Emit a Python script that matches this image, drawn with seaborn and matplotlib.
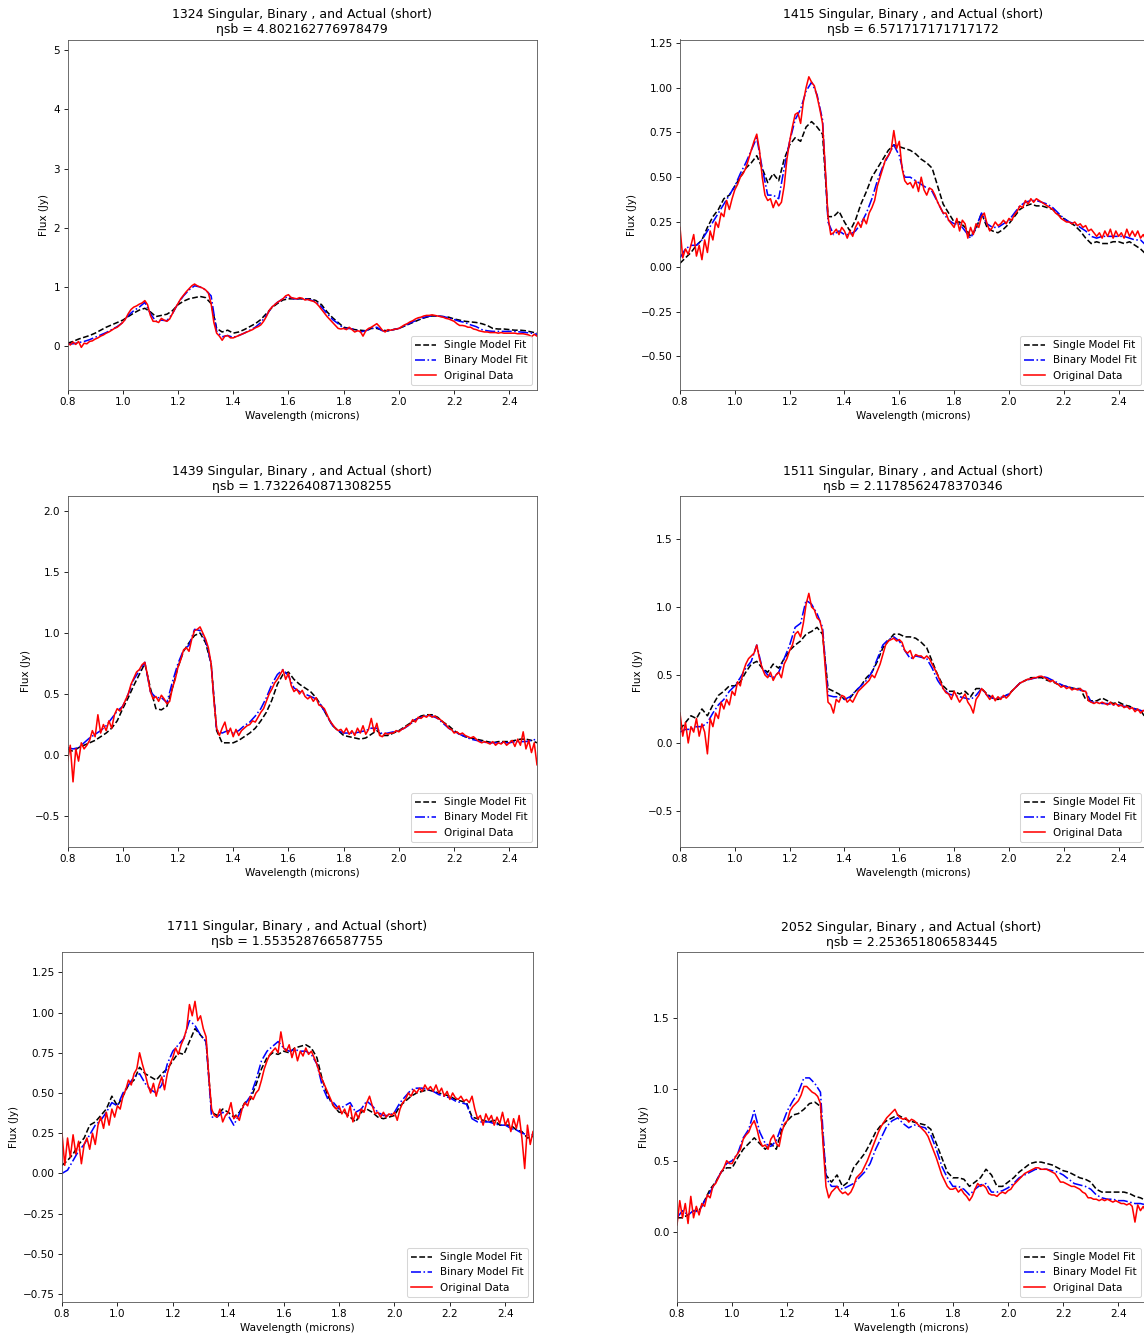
import numpy as np
import matplotlib
matplotlib.use("Agg")
import matplotlib.pyplot as plt
import seaborn as sns

# ---------------- data ----------------
wave_fit = np.round(np.linspace(0.80, 2.50, 86), 2)    # model grid (0.02 step)
wave_data = np.round(np.linspace(0.80, 2.50, 171), 2)  # observed grid (0.01 step)

star_ids = ["1324", "1415", "1439", "1511", "1711", "2052"]
eta_sb = ["4.802162776978479", "6.571717171717172", "1.7322640871308255",
          "2.1178562478370346", "1.553528766587755", "2.253651806583445"]

# ---- 1324 ----
single_1324 = [0.05, 0.08, 0.12, 0.15, 0.18, 0.22, 0.27, 0.32, 0.36, 0.40,
               0.44, 0.50, 0.56, 0.61, 0.64, 0.58, 0.50, 0.52, 0.54, 0.60,
               0.70, 0.76, 0.80, 0.82, 0.84, 0.82, 0.72, 0.30, 0.24, 0.27,
               0.22, 0.24, 0.28, 0.33, 0.38, 0.45, 0.55, 0.65, 0.72, 0.78,
               0.80, 0.80, 0.80, 0.80, 0.80, 0.77, 0.70, 0.58, 0.48, 0.40,
               0.32, 0.30, 0.28, 0.27, 0.26, 0.30, 0.30, 0.27, 0.26, 0.28,
               0.30, 0.34, 0.38, 0.42, 0.46, 0.49, 0.51, 0.51, 0.50, 0.49,
               0.46, 0.44, 0.42, 0.41, 0.40, 0.38, 0.35, 0.30, 0.29, 0.29,
               0.28, 0.27, 0.27, 0.26, 0.24, 0.22]
binary_1324 = [0.04, 0.04, 0.06, 0.08, 0.11, 0.15, 0.19, 0.23, 0.28, 0.33,
               0.40, 0.52, 0.60, 0.66, 0.74, 0.55, 0.42, 0.44, 0.43, 0.55,
               0.72, 0.85, 0.95, 1.02, 1.00, 0.95, 0.85, 0.25, 0.16, 0.18,
               0.15, 0.18, 0.22, 0.27, 0.32, 0.40, 0.52, 0.66, 0.74, 0.80,
               0.84, 0.80, 0.80, 0.80, 0.78, 0.75, 0.66, 0.55, 0.45, 0.38,
               0.30, 0.30, 0.28, 0.24, 0.26, 0.30, 0.32, 0.26, 0.26, 0.28,
               0.30, 0.34, 0.39, 0.43, 0.47, 0.50, 0.51, 0.51, 0.50, 0.48,
               0.45, 0.42, 0.40, 0.36, 0.33, 0.28, 0.26, 0.25, 0.25, 0.25,
               0.25, 0.25, 0.24, 0.23, 0.22, 0.20]
data_1324 = [0.06, 0.02, 0.07, 0.03, 0.08, -0.02, 0.05, 0.04, 0.08, 0.09,
             0.12, 0.14, 0.17, 0.19, 0.22, 0.24, 0.27, 0.30, 0.32, 0.36,
             0.40, 0.46, 0.55, 0.62, 0.66, 0.68, 0.71, 0.73, 0.77, 0.70,
             0.52, 0.42, 0.42, 0.40, 0.47, 0.44, 0.42, 0.46, 0.55, 0.64,
             0.72, 0.80, 0.86, 0.92, 0.97, 1.02, 1.05, 1.02, 1.00, 0.98,
             0.95, 0.90, 0.72, 0.40, 0.22, 0.17, 0.10, 0.17, 0.18, 0.14,
             0.14, 0.16, 0.18, 0.20, 0.22, 0.24, 0.26, 0.28, 0.31, 0.33,
             0.36, 0.42, 0.50, 0.60, 0.66, 0.70, 0.74, 0.77, 0.80, 0.85,
             0.87, 0.82, 0.81, 0.80, 0.82, 0.81, 0.78, 0.79, 0.77, 0.76,
             0.73, 0.68, 0.62, 0.56, 0.50, 0.45, 0.40, 0.35, 0.30, 0.29,
             0.30, 0.28, 0.32, 0.28, 0.24, 0.26, 0.25, 0.17, 0.26, 0.30,
             0.32, 0.35, 0.38, 0.33, 0.27, 0.24, 0.28, 0.27, 0.28, 0.29,
             0.30, 0.33, 0.36, 0.38, 0.41, 0.43, 0.46, 0.48, 0.49, 0.51,
             0.52, 0.52, 0.53, 0.52, 0.51, 0.50, 0.49, 0.47, 0.46, 0.44,
             0.42, 0.38, 0.35, 0.35, 0.34, 0.32, 0.32, 0.29, 0.28, 0.26,
             0.25, 0.24, 0.24, 0.23, 0.23, 0.23, 0.22, 0.23, 0.22, 0.22,
             0.22, 0.22, 0.22, 0.21, 0.21, 0.21, 0.20, 0.19, 0.16, 0.20,
             0.17]

# ---- 1415 ----
single_1415 = [0.02, 0.05, 0.08, 0.12, 0.15, 0.22, 0.28, 0.32, 0.38, 0.40,
               0.45, 0.50, 0.55, 0.58, 0.62, 0.55, 0.47, 0.52, 0.48, 0.60,
               0.68, 0.72, 0.70, 0.78, 0.81, 0.78, 0.74, 0.28, 0.28, 0.31,
               0.25, 0.20, 0.26, 0.35, 0.42, 0.50, 0.55, 0.60, 0.65, 0.68,
               0.67, 0.66, 0.65, 0.63, 0.60, 0.58, 0.55, 0.45, 0.35, 0.30,
               0.25, 0.25, 0.22, 0.17, 0.21, 0.30, 0.22, 0.20, 0.19, 0.21,
               0.24, 0.28, 0.32, 0.34, 0.35, 0.34, 0.34, 0.33, 0.32, 0.29,
               0.27, 0.25, 0.23, 0.20, 0.16, 0.13, 0.14, 0.13, 0.13, 0.14,
               0.14, 0.13, 0.14, 0.12, 0.10, 0.07]
binary_1415 = [0.05, 0.10, 0.12, 0.12, 0.15, 0.20, 0.25, 0.30, 0.35, 0.40,
               0.45, 0.52, 0.58, 0.65, 0.72, 0.55, 0.40, 0.40, 0.38, 0.55,
               0.70, 0.82, 0.88, 0.98, 1.03, 0.96, 0.82, 0.25, 0.18, 0.20,
               0.18, 0.18, 0.20, 0.24, 0.30, 0.38, 0.48, 0.56, 0.62, 0.68,
               0.62, 0.50, 0.50, 0.48, 0.46, 0.44, 0.42, 0.36, 0.30, 0.26,
               0.24, 0.24, 0.20, 0.16, 0.22, 0.30, 0.24, 0.22, 0.22, 0.24,
               0.26, 0.30, 0.34, 0.36, 0.37, 0.37, 0.36, 0.35, 0.33, 0.30,
               0.27, 0.25, 0.24, 0.22, 0.20, 0.17, 0.16, 0.17, 0.17, 0.17,
               0.17, 0.17, 0.16, 0.15, 0.15, 0.12]
data_1415 = [0.22, 0.05, 0.10, 0.07, 0.12, 0.18, 0.06, 0.12, 0.04, 0.15,
             0.08, 0.20, 0.15, 0.25, 0.22, 0.30, 0.28, 0.37, 0.32, 0.38,
             0.43, 0.46, 0.50, 0.52, 0.55, 0.60, 0.65, 0.70, 0.74, 0.65,
             0.50, 0.40, 0.37, 0.38, 0.33, 0.37, 0.34, 0.36, 0.45, 0.60,
             0.70, 0.78, 0.85, 0.86, 0.80, 0.92, 1.00, 1.06, 1.03, 1.01,
             0.95, 0.88, 0.80, 0.55, 0.28, 0.18, 0.19, 0.21, 0.18, 0.22,
             0.20, 0.16, 0.20, 0.17, 0.22, 0.25, 0.22, 0.27, 0.24, 0.30,
             0.33, 0.37, 0.45, 0.50, 0.55, 0.60, 0.62, 0.65, 0.76, 0.66,
             0.70, 0.55, 0.48, 0.46, 0.47, 0.44, 0.48, 0.42, 0.50, 0.43,
             0.40, 0.44, 0.43, 0.40, 0.36, 0.33, 0.30, 0.30, 0.26, 0.24,
             0.22, 0.27, 0.20, 0.26, 0.24, 0.16, 0.22, 0.18, 0.24, 0.22,
             0.28, 0.30, 0.24, 0.20, 0.22, 0.25, 0.23, 0.24, 0.26, 0.24,
             0.27, 0.26, 0.29, 0.31, 0.34, 0.33, 0.37, 0.35, 0.38, 0.36,
             0.38, 0.37, 0.36, 0.35, 0.34, 0.33, 0.32, 0.30, 0.29, 0.27,
             0.26, 0.25, 0.25, 0.24, 0.25, 0.23, 0.24, 0.22, 0.23, 0.20,
             0.21, 0.19, 0.17, 0.19, 0.16, 0.20, 0.17, 0.21, 0.16, 0.20,
             0.17, 0.19, 0.16, 0.21, 0.17, 0.20, 0.17, 0.20, 0.16, 0.18,
             0.15]

# ---- 1439 ----
single_1439 = [0.05, 0.03, 0.06, 0.08, 0.10, 0.12, 0.15, 0.18, 0.22, 0.28,
               0.38, 0.47, 0.57, 0.66, 0.75, 0.55, 0.38, 0.37, 0.40, 0.55,
               0.72, 0.85, 0.92, 0.98, 1.00, 0.92, 0.75, 0.20, 0.10, 0.10,
               0.10, 0.12, 0.15, 0.18, 0.22, 0.28, 0.35, 0.45, 0.58, 0.66,
               0.68, 0.62, 0.58, 0.55, 0.52, 0.47, 0.40, 0.32, 0.24, 0.20,
               0.16, 0.15, 0.14, 0.13, 0.14, 0.17, 0.20, 0.16, 0.16, 0.18,
               0.20, 0.23, 0.26, 0.29, 0.32, 0.33, 0.33, 0.31, 0.27, 0.24,
               0.20, 0.17, 0.15, 0.14, 0.13, 0.12, 0.11, 0.10, 0.11, 0.11,
               0.11, 0.12, 0.13, 0.13, 0.12, 0.10]
binary_1439 = [0.06, 0.05, 0.06, 0.10, 0.14, 0.17, 0.20, 0.24, 0.30, 0.36,
               0.40, 0.50, 0.62, 0.69, 0.76, 0.52, 0.47, 0.47, 0.43, 0.60,
               0.75, 0.86, 0.90, 1.03, 1.02, 0.94, 0.75, 0.20, 0.18, 0.20,
               0.18, 0.20, 0.24, 0.27, 0.32, 0.38, 0.47, 0.58, 0.66, 0.70,
               0.65, 0.55, 0.52, 0.50, 0.48, 0.46, 0.40, 0.32, 0.24, 0.20,
               0.18, 0.18, 0.18, 0.19, 0.20, 0.22, 0.22, 0.17, 0.18, 0.19,
               0.20, 0.22, 0.25, 0.29, 0.31, 0.32, 0.32, 0.30, 0.26, 0.22,
               0.19, 0.17, 0.15, 0.13, 0.12, 0.11, 0.10, 0.10, 0.10, 0.10,
               0.10, 0.11, 0.11, 0.11, 0.12, 0.13]
data_1439 = [-0.05, 0.08, -0.22, 0.05, -0.05, 0.10, 0.05, 0.08, 0.12, 0.20,
             0.15, 0.33, 0.18, 0.25, 0.20, 0.28, 0.22, 0.33, 0.38, 0.36,
             0.40, 0.45, 0.50, 0.58, 0.63, 0.68, 0.70, 0.74, 0.76, 0.65,
             0.52, 0.46, 0.48, 0.44, 0.49, 0.46, 0.42, 0.44, 0.55, 0.62,
             0.72, 0.78, 0.86, 0.88, 0.85, 0.95, 1.02, 1.03, 1.05, 1.00,
             0.95, 0.88, 0.75, 0.45, 0.22, 0.16, 0.22, 0.27, 0.17, 0.22,
             0.15, 0.21, 0.16, 0.20, 0.22, 0.24, 0.25, 0.28, 0.27, 0.31,
             0.35, 0.38, 0.44, 0.50, 0.54, 0.59, 0.62, 0.66, 0.70, 0.62,
             0.67, 0.57, 0.52, 0.54, 0.50, 0.53, 0.48, 0.46, 0.48, 0.44,
             0.47, 0.41, 0.40, 0.38, 0.33, 0.28, 0.25, 0.22, 0.20, 0.21,
             0.18, 0.22, 0.17, 0.20, 0.16, 0.22, 0.18, 0.24, 0.17, 0.21,
             0.30, 0.19, 0.26, 0.16, 0.15, 0.18, 0.17, 0.18, 0.18, 0.20,
             0.19, 0.21, 0.22, 0.24, 0.25, 0.29, 0.27, 0.31, 0.30, 0.32,
             0.31, 0.33, 0.31, 0.32, 0.30, 0.29, 0.27, 0.25, 0.22, 0.21,
             0.18, 0.19, 0.17, 0.18, 0.16, 0.15, 0.14, 0.15, 0.13, 0.11,
             0.10, 0.11, 0.10, 0.09, 0.11, 0.08, 0.10, 0.09, 0.11, 0.08,
             0.10, 0.12, 0.07, 0.13, 0.08, 0.19, 0.05, 0.12, 0.02, 0.10,
             -0.08]

# ---- 1511 ----
single_1511 = [0.10, 0.15, 0.20, 0.18, 0.25, 0.20, 0.28, 0.35, 0.38, 0.42,
               0.42, 0.45, 0.52, 0.58, 0.60, 0.55, 0.52, 0.58, 0.55, 0.62,
               0.68, 0.72, 0.75, 0.80, 0.82, 0.85, 0.80, 0.40, 0.38, 0.36,
               0.32, 0.33, 0.38, 0.42, 0.48, 0.52, 0.60, 0.70, 0.75, 0.80,
               0.80, 0.78, 0.78, 0.77, 0.74, 0.70, 0.60, 0.50, 0.42, 0.38,
               0.38, 0.36, 0.38, 0.34, 0.40, 0.40, 0.36, 0.33, 0.32, 0.34,
               0.36, 0.40, 0.44, 0.46, 0.48, 0.48, 0.48, 0.46, 0.45, 0.43,
               0.42, 0.41, 0.40, 0.40, 0.32, 0.31, 0.31, 0.33, 0.31, 0.29,
               0.30, 0.28, 0.27, 0.25, 0.24, 0.18]
binary_1511 = [0.08, 0.10, 0.10, 0.12, 0.12, 0.15, 0.22, 0.28, 0.32, 0.38,
               0.42, 0.48, 0.55, 0.60, 0.72, 0.55, 0.50, 0.48, 0.52, 0.62,
               0.72, 0.85, 0.88, 1.05, 1.02, 0.95, 0.85, 0.35, 0.34, 0.34,
               0.32, 0.34, 0.38, 0.42, 0.46, 0.52, 0.62, 0.72, 0.76, 0.78,
               0.75, 0.68, 0.62, 0.64, 0.63, 0.62, 0.55, 0.46, 0.40, 0.36,
               0.35, 0.34, 0.33, 0.32, 0.35, 0.40, 0.35, 0.33, 0.33, 0.34,
               0.36, 0.40, 0.44, 0.46, 0.47, 0.48, 0.49, 0.48, 0.46, 0.44,
               0.42, 0.41, 0.40, 0.39, 0.38, 0.30, 0.30, 0.29, 0.29, 0.28,
               0.28, 0.27, 0.26, 0.25, 0.24, 0.22]
data_1511 = [0.22, 0.05, 0.15, 0.00, 0.12, 0.08, 0.18, 0.05, 0.14, 0.08,
             -0.08, 0.18, 0.12, 0.22, 0.18, 0.30, 0.25, 0.32, 0.28, 0.38,
             0.35, 0.45, 0.42, 0.52, 0.58, 0.62, 0.64, 0.66, 0.72, 0.62,
             0.55, 0.50, 0.48, 0.52, 0.46, 0.50, 0.52, 0.48, 0.58, 0.62,
             0.68, 0.72, 0.80, 0.82, 0.78, 0.88, 1.02, 1.10, 1.00, 0.98,
             0.92, 0.90, 0.82, 0.55, 0.30, 0.28, 0.22, 0.32, 0.30, 0.35,
             0.34, 0.30, 0.32, 0.30, 0.34, 0.38, 0.40, 0.42, 0.44, 0.46,
             0.50, 0.48, 0.53, 0.58, 0.65, 0.72, 0.75, 0.76, 0.77, 0.75,
             0.76, 0.74, 0.68, 0.66, 0.68, 0.62, 0.65, 0.64, 0.64, 0.62,
             0.64, 0.62, 0.58, 0.54, 0.50, 0.45, 0.40, 0.37, 0.36, 0.32,
             0.38, 0.34, 0.30, 0.33, 0.36, 0.30, 0.27, 0.22, 0.32, 0.35,
             0.40, 0.38, 0.35, 0.32, 0.35, 0.31, 0.34, 0.32, 0.35, 0.33,
             0.35, 0.38, 0.40, 0.42, 0.44, 0.45, 0.46, 0.47, 0.47, 0.48,
             0.48, 0.49, 0.49, 0.48, 0.47, 0.45, 0.46, 0.44, 0.43, 0.41,
             0.42, 0.40, 0.41, 0.39, 0.40, 0.39, 0.40, 0.38, 0.38, 0.31,
             0.30, 0.29, 0.30, 0.29, 0.30, 0.29, 0.28, 0.30, 0.28, 0.29,
             0.27, 0.28, 0.26, 0.27, 0.25, 0.26, 0.23, 0.25, 0.22, 0.24,
             0.22]

# ---- 1711 ----
single_1711 = [0.05, 0.08, 0.12, 0.18, 0.22, 0.30, 0.32, 0.36, 0.40, 0.48,
               0.42, 0.48, 0.55, 0.58, 0.66, 0.62, 0.60, 0.58, 0.62, 0.65,
               0.70, 0.75, 0.74, 0.82, 0.90, 0.86, 0.82, 0.38, 0.36, 0.40,
               0.38, 0.35, 0.38, 0.44, 0.46, 0.55, 0.65, 0.72, 0.75, 0.74,
               0.76, 0.75, 0.78, 0.79, 0.80, 0.78, 0.72, 0.58, 0.48, 0.42,
               0.38, 0.38, 0.35, 0.32, 0.38, 0.40, 0.38, 0.35, 0.34, 0.35,
               0.36, 0.42, 0.45, 0.48, 0.50, 0.51, 0.52, 0.51, 0.50, 0.49,
               0.48, 0.46, 0.45, 0.44, 0.35, 0.34, 0.33, 0.32, 0.33, 0.30,
               0.30, 0.30, 0.27, 0.26, 0.22, 0.23]
binary_1711 = [0.00, 0.02, 0.08, 0.14, 0.18, 0.24, 0.30, 0.33, 0.38, 0.44,
               0.42, 0.50, 0.55, 0.60, 0.62, 0.56, 0.52, 0.50, 0.55, 0.68,
               0.76, 0.80, 0.84, 0.95, 0.92, 0.86, 0.82, 0.35, 0.35, 0.38,
               0.36, 0.30, 0.37, 0.43, 0.48, 0.58, 0.70, 0.76, 0.79, 0.82,
               0.78, 0.76, 0.77, 0.76, 0.76, 0.74, 0.68, 0.54, 0.46, 0.44,
               0.40, 0.42, 0.44, 0.38, 0.40, 0.45, 0.42, 0.38, 0.36, 0.36,
               0.38, 0.44, 0.48, 0.52, 0.53, 0.53, 0.52, 0.51, 0.49, 0.48,
               0.47, 0.45, 0.44, 0.43, 0.34, 0.32, 0.32, 0.32, 0.31, 0.30,
               0.30, 0.28, 0.27, 0.25, 0.24, 0.24]
data_1711 = [0.25, 0.05, 0.22, 0.10, 0.24, 0.12, 0.20, 0.06, 0.18, 0.22,
             0.15, 0.25, 0.18, 0.30, 0.35, 0.28, 0.38, 0.30, 0.40, 0.35,
             0.42, 0.40, 0.48, 0.52, 0.58, 0.55, 0.62, 0.65, 0.75, 0.68,
             0.62, 0.55, 0.50, 0.56, 0.48, 0.55, 0.60, 0.52, 0.62, 0.68,
             0.72, 0.78, 0.74, 0.80, 0.84, 0.90, 1.05, 0.98, 1.07, 0.95,
             0.98, 0.90, 0.85, 0.60, 0.40, 0.36, 0.35, 0.40, 0.32, 0.36,
             0.38, 0.44, 0.34, 0.36, 0.33, 0.40, 0.44, 0.42, 0.48, 0.46,
             0.50, 0.52, 0.58, 0.65, 0.70, 0.74, 0.76, 0.78, 0.75, 0.88,
             0.78, 0.76, 0.80, 0.72, 0.78, 0.70, 0.76, 0.73, 0.78, 0.74,
             0.76, 0.72, 0.68, 0.62, 0.58, 0.54, 0.50, 0.46, 0.42, 0.40,
             0.42, 0.37, 0.40, 0.35, 0.42, 0.32, 0.38, 0.34, 0.40, 0.38,
             0.44, 0.48, 0.42, 0.37, 0.38, 0.35, 0.38, 0.35, 0.37, 0.36,
             0.38, 0.33, 0.40, 0.44, 0.46, 0.50, 0.48, 0.52, 0.50, 0.53,
             0.51, 0.55, 0.52, 0.54, 0.51, 0.55, 0.50, 0.53, 0.48, 0.51,
             0.46, 0.50, 0.47, 0.46, 0.48, 0.45, 0.46, 0.44, 0.48, 0.40,
             0.34, 0.36, 0.30, 0.37, 0.33, 0.36, 0.30, 0.35, 0.31, 0.38,
             0.30, 0.34, 0.26, 0.34, 0.28, 0.36, 0.22, 0.03, 0.30, 0.18,
             0.26]

# ---- 2052 ----
single_2052 = [0.10, 0.10, 0.12, 0.15, 0.15, 0.22, 0.30, 0.35, 0.42, 0.45,
               0.45, 0.52, 0.58, 0.62, 0.66, 0.62, 0.58, 0.62, 0.58, 0.72,
               0.78, 0.82, 0.83, 0.86, 0.90, 0.91, 0.88, 0.40, 0.35, 0.40,
               0.32, 0.35, 0.45, 0.50, 0.55, 0.62, 0.70, 0.75, 0.78, 0.80,
               0.82, 0.80, 0.78, 0.77, 0.76, 0.75, 0.72, 0.62, 0.52, 0.42,
               0.38, 0.38, 0.37, 0.32, 0.35, 0.38, 0.44, 0.40, 0.32, 0.32,
               0.35, 0.38, 0.42, 0.45, 0.48, 0.49, 0.49, 0.48, 0.47, 0.45,
               0.43, 0.42, 0.40, 0.38, 0.37, 0.35, 0.30, 0.28, 0.28, 0.28,
               0.28, 0.28, 0.27, 0.25, 0.24, 0.22]
binary_2052 = [0.10, 0.15, 0.12, 0.15, 0.14, 0.22, 0.28, 0.35, 0.42, 0.48,
               0.50, 0.55, 0.66, 0.72, 0.85, 0.70, 0.62, 0.60, 0.64, 0.75,
               0.85, 0.92, 0.98, 1.08, 1.08, 1.04, 0.98, 0.38, 0.32, 0.32,
               0.30, 0.32, 0.34, 0.38, 0.42, 0.48, 0.58, 0.66, 0.74, 0.78,
               0.80, 0.76, 0.73, 0.75, 0.74, 0.73, 0.68, 0.58, 0.46, 0.38,
               0.32, 0.32, 0.30, 0.26, 0.30, 0.33, 0.34, 0.28, 0.28, 0.29,
               0.31, 0.34, 0.38, 0.40, 0.42, 0.44, 0.44, 0.44, 0.43, 0.42,
               0.40, 0.37, 0.34, 0.33, 0.32, 0.30, 0.26, 0.24, 0.23, 0.23,
               0.22, 0.22, 0.21, 0.20, 0.20, 0.19]
data_2052 = [0.05, 0.22, 0.10, 0.20, 0.06, 0.25, 0.10, 0.18, 0.12, 0.20,
             0.18, 0.26, 0.24, 0.32, 0.34, 0.38, 0.42, 0.45, 0.50, 0.48,
             0.48, 0.52, 0.55, 0.58, 0.65, 0.68, 0.70, 0.75, 0.78, 0.72,
             0.64, 0.60, 0.61, 0.58, 0.65, 0.68, 0.62, 0.60, 0.70, 0.76,
             0.78, 0.85, 0.88, 0.90, 0.92, 0.96, 1.02, 1.02, 1.00, 0.98,
             0.97, 0.95, 0.90, 0.60, 0.32, 0.24, 0.28, 0.30, 0.32, 0.29,
             0.27, 0.28, 0.26, 0.28, 0.32, 0.38, 0.40, 0.42, 0.46, 0.50,
             0.55, 0.60, 0.65, 0.70, 0.74, 0.77, 0.80, 0.82, 0.84, 0.86,
             0.82, 0.80, 0.79, 0.80, 0.77, 0.79, 0.78, 0.76, 0.74, 0.72,
             0.70, 0.67, 0.62, 0.57, 0.52, 0.46, 0.40, 0.36, 0.32, 0.30,
             0.30, 0.31, 0.28, 0.30, 0.27, 0.25, 0.22, 0.25, 0.30, 0.34,
             0.32, 0.33, 0.31, 0.27, 0.26, 0.26, 0.25, 0.27, 0.28, 0.27,
             0.29, 0.30, 0.33, 0.35, 0.37, 0.39, 0.41, 0.42, 0.43, 0.44,
             0.45, 0.45, 0.44, 0.44, 0.44, 0.43, 0.42, 0.41, 0.38, 0.35,
             0.35, 0.34, 0.33, 0.32, 0.32, 0.31, 0.30, 0.28, 0.27, 0.24,
             0.24, 0.23, 0.23, 0.22, 0.23, 0.22, 0.23, 0.22, 0.21, 0.22,
             0.21, 0.20, 0.20, 0.19, 0.20, 0.18, 0.07, 0.19, 0.15, 0.18,
             0.14]

single_fits = [single_1324, single_1415, single_1439, single_1511, single_1711, single_2052]
binary_fits = [binary_1324, binary_1415, binary_1439, binary_1511, binary_1711, binary_2052]
observed = [data_1324, data_1415, data_1439, data_1511, data_1711, data_2052]

y_limits = [(-0.74, 5.18), (-0.687, 1.268), (-0.754, 2.123),
            (-0.765, 1.816), (-0.80, 1.38), (-0.49, 1.962)]

# ---------------- layout (pixel boxes: left, top, right, bottom) ----------------
W, H, DPI = 1144, 1337, 75
boxes = [(67.5, 39.5, 537, 390), (680, 39.5, 1146, 390),
         (67.5, 496, 537, 847), (680, 496, 1146, 847),
         (62, 951.5, 533, 1302), (677, 952, 1146, 1302)]

plt.rcParams['font.family'] = ['DejaVu Sans']
fig = plt.figure(figsize=(W / DPI, H / DPI), dpi=DPI)
fig.patch.set_facecolor('white')

for i in range(6):
    l, t, r, b = boxes[i]
    ax = fig.add_axes([l / W, 1 - b / H, (r - l) / W, (b - t) / H])
    sns.lineplot(x=wave_fit, y=single_fits[i], ax=ax, color='black',
                 linestyle='--', linewidth=1.5, label='Single Model Fit')
    sns.lineplot(x=wave_fit, y=binary_fits[i], ax=ax, color='blue',
                 linestyle='-.', linewidth=1.5, label='Binary Model Fit')
    sns.lineplot(x=wave_data, y=observed[i], ax=ax, color='red',
                 linestyle='-', linewidth=1.5, label='Original Data')
    ax.set_xlim(0.8, 2.5)
    ax.set_ylim(*y_limits[i])
    ax.set_xlabel('Wavelength (microns)', fontsize=10)
    ax.set_ylabel('Flux (Jy)', fontsize=10)
    ax.set_title(f"{star_ids[i]} Singular, Binary , and Actual (short)\n\u03b7sb = {eta_sb[i]}",
                 fontsize=12)
    ax.tick_params(labelsize=10)
    for sp in ax.spines.values():
        sp.set_edgecolor('#555555')
    ax.legend(loc='lower right', fontsize=10)

fig.savefig('out.png', dpi=DPI, facecolor='white')
